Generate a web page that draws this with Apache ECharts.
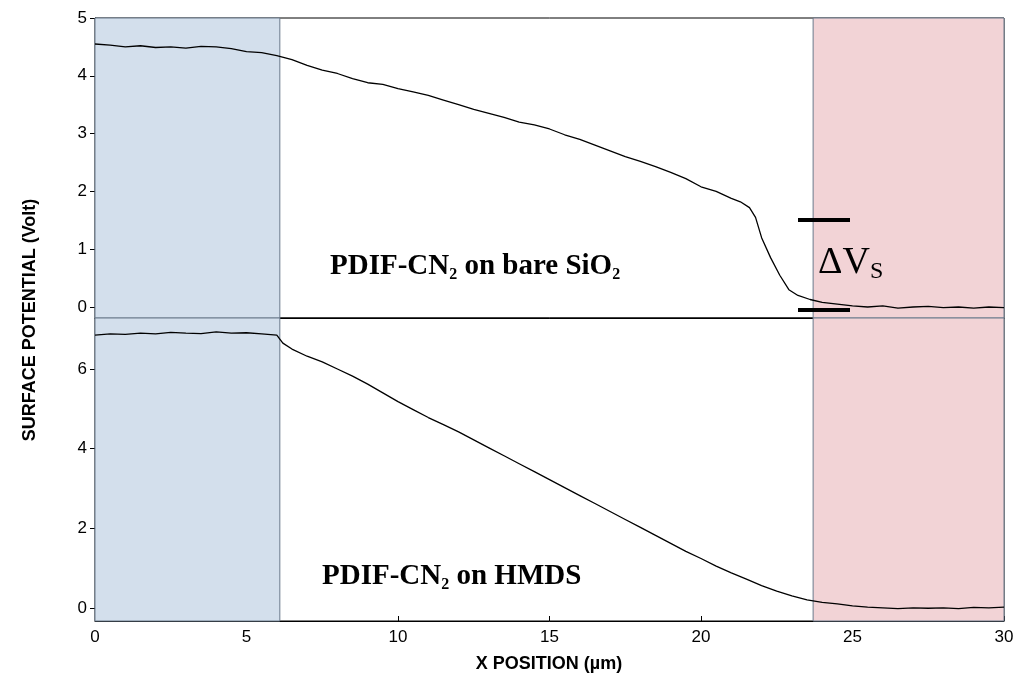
<!DOCTYPE html>
<html><head><meta charset="utf-8">
<script src="https://cdn.jsdelivr.net/npm/echarts@6/dist/echarts.min.js"></script>
<style>html,body{margin:0;background:#fff}#c{width:1024px;height:694px}</style>
</head><body><div id="c"></div>
<script>
// x positions (um) and surface potentials
const xTop = [0,0.5,1,1.5,2,2.5,3,3.5,4,4.5,5,5.5,6,6.5,7,7.5,8,8.5,9,9.5,10,10.5,11,11.5,12,12.5,13,13.5,14,14.5,15,15.5,16,16.5,17,17.5,18,18.5,19,19.5,20,20.5,21,21.3,21.6,21.8,22,22.3,22.6,22.9,23.2,23.6,24,24.5,25,25.5,26,26.5,27,27.5,28,28.5,29,29.5,30]
const yTop = [4.55,4.53,4.5,4.52,4.49,4.5,4.48,4.51,4.5,4.47,4.42,4.4,4.35,4.28,4.18,4.1,4.04,3.95,3.88,3.85,3.78,3.72,3.66,3.58,3.5,3.42,3.35,3.28,3.2,3.15,3.08,2.98,2.9,2.8,2.7,2.6,2.52,2.43,2.33,2.22,2.08,2.0,1.88,1.82,1.72,1.55,1.2,0.85,0.55,0.3,0.2,0.13,0.08,0.05,0.02,0.0,0.02,-0.02,0.0,0.01,-0.01,0.0,-0.02,0.0,-0.01]
const xBot = [0,0.5,1,1.5,2,2.5,3,3.5,4,4.5,5,5.5,6,6.2,6.5,7,7.5,8,8.5,9,9.5,10,10.5,11,11.5,12,12.5,13,13.5,14,14.5,15,15.5,16,16.5,17,17.5,18,18.5,19,19.5,20,20.5,21,21.5,22,22.5,23,23.5,24,24.5,25,25.5,26,26.5,27,27.5,28,28.5,29,29.5,30]
const yBot = [6.85,6.88,6.87,6.9,6.88,6.92,6.9,6.89,6.93,6.9,6.91,6.88,6.85,6.65,6.5,6.32,6.18,6.0,5.82,5.62,5.4,5.18,4.98,4.78,4.6,4.42,4.22,4.02,3.82,3.62,3.42,3.22,3.02,2.82,2.62,2.42,2.22,2.02,1.82,1.62,1.42,1.24,1.05,0.88,0.72,0.56,0.42,0.3,0.2,0.14,0.1,0.05,0.02,0.0,-0.02,0.0,-0.01,0.0,-0.02,0.01,0.0,0.02]
const topTicks = [0,1,2,3,4,5]
const botTicks = [0,2,4,6]
const blueZone = [0,6.1]
const redZone = [23.7,30]

const pair = (xs, ys) => xs.map((x, i) => [x, ys[i]])
const zones = {
  silent: true,
  data: [
    [{xAxis: blueZone[0], itemStyle: {color: '#d3dfec'}}, {xAxis: blueZone[1]}],
    [{xAxis: redZone[0], itemStyle: {color: '#f2d3d6'}}, {xAxis: redZone[1]}]
  ],
  itemStyle: {borderColor: '#6b7a8c', borderWidth: 1}
}
const lbl = {fontFamily: 'Liberation Sans', fontSize: 17, color: '#000'}
const xa = (gi, show) => ({
  type: 'value', gridIndex: gi, min: 0, max: 30, interval: 5,
  axisLine: {onZero: false, lineStyle: {color: '#000'}}, splitLine: {show: false},
  axisTick: {show: show, inside: true, length: 5}, axisLabel: Object.assign({show: show}, lbl)
})
const ya = (gi, min, max, ticks) => ({
  type: 'value', gridIndex: gi, min: min, max: max,
  axisLine: {show: true, onZero: false, lineStyle: {color: '#000'}}, splitLine: {show: false},
  axisTick: {customValues: ticks, length: 5}, axisLabel: Object.assign({customValues: ticks}, lbl)
})
const sub = (big, small, pad) => ({
  b: {font: 'bold ' + big + 'px "Liberation Serif"', fill: '#000'},
  s: {font: 'bold ' + small + 'px "Liberation Serif"', fill: '#000', padding: [pad, 0, 0, 0]}
})

const chart = echarts.init(document.getElementById('c'))
chart.setOption({
  animation: false,
  grid: [
    {left: 95, top: 18, width: 909, height: 300, show: true, borderColor: '#000'},
    {left: 95, top: 318, width: 909, height: 303, show: true, borderColor: '#000'}
  ],
  xAxis: [xa(0, false), xa(1, true)],
  yAxis: [ya(0, -0.19, 5, topTicks), ya(1, -0.33, 7.28, botTicks)],
  series: [
    {type: 'line', xAxisIndex: 0, yAxisIndex: 0, data: pair(xTop, yTop), showSymbol: false,
      lineStyle: {color: '#000', width: 1.3}, markArea: zones},
    {type: 'line', xAxisIndex: 1, yAxisIndex: 1, data: pair(xBot, yBot), showSymbol: false,
      lineStyle: {color: '#000', width: 1.3}, markArea: zones}
  ],
  graphic: [
    {type: 'text', z: 100, left: 330, top: 252, style: {
      text: '{b|PDIF-CN}{s|2}{b| on bare SiO}{s|2}', rich: sub(29, 16, 16)}},
    {type: 'text', z: 100, left: 322, top: 562, style: {
      text: '{b|PDIF-CN}{s|2}{b| on HMDS}', rich: sub(29, 16, 16)}},
    {type: 'text', z: 100, left: 818, top: 244, style: {
      text: '{b|ΔV}{s|S}',
      rich: {b: {font: '38px "Liberation Serif"', fill: '#000'}, s: {font: '24px "Liberation Serif"', fill: '#000', padding: [18, 0, 0, 0]}}}},
    {type: 'rect', z: 100, shape: {x: 798, y: 218, width: 52, height: 4}, style: {fill: '#000'}},
    {type: 'rect', z: 100, shape: {x: 798, y: 308, width: 52, height: 4}, style: {fill: '#000'}},
    {type: 'text', z: 100, x: 30, y: 320, rotation: Math.PI / 2, style: {
      text: 'SURFACE POTENTIAL (Volt)', font: 'bold 18px "Liberation Sans"', fill: '#000', align: 'center', verticalAlign: 'middle'}},
    {type: 'text', z: 100, x: 549, y: 664, style: {
      text: 'X POSITION (µm)', font: 'bold 18px "Liberation Sans"', fill: '#000', align: 'center', verticalAlign: 'middle'}}
  ]
})
</script></body></html>
